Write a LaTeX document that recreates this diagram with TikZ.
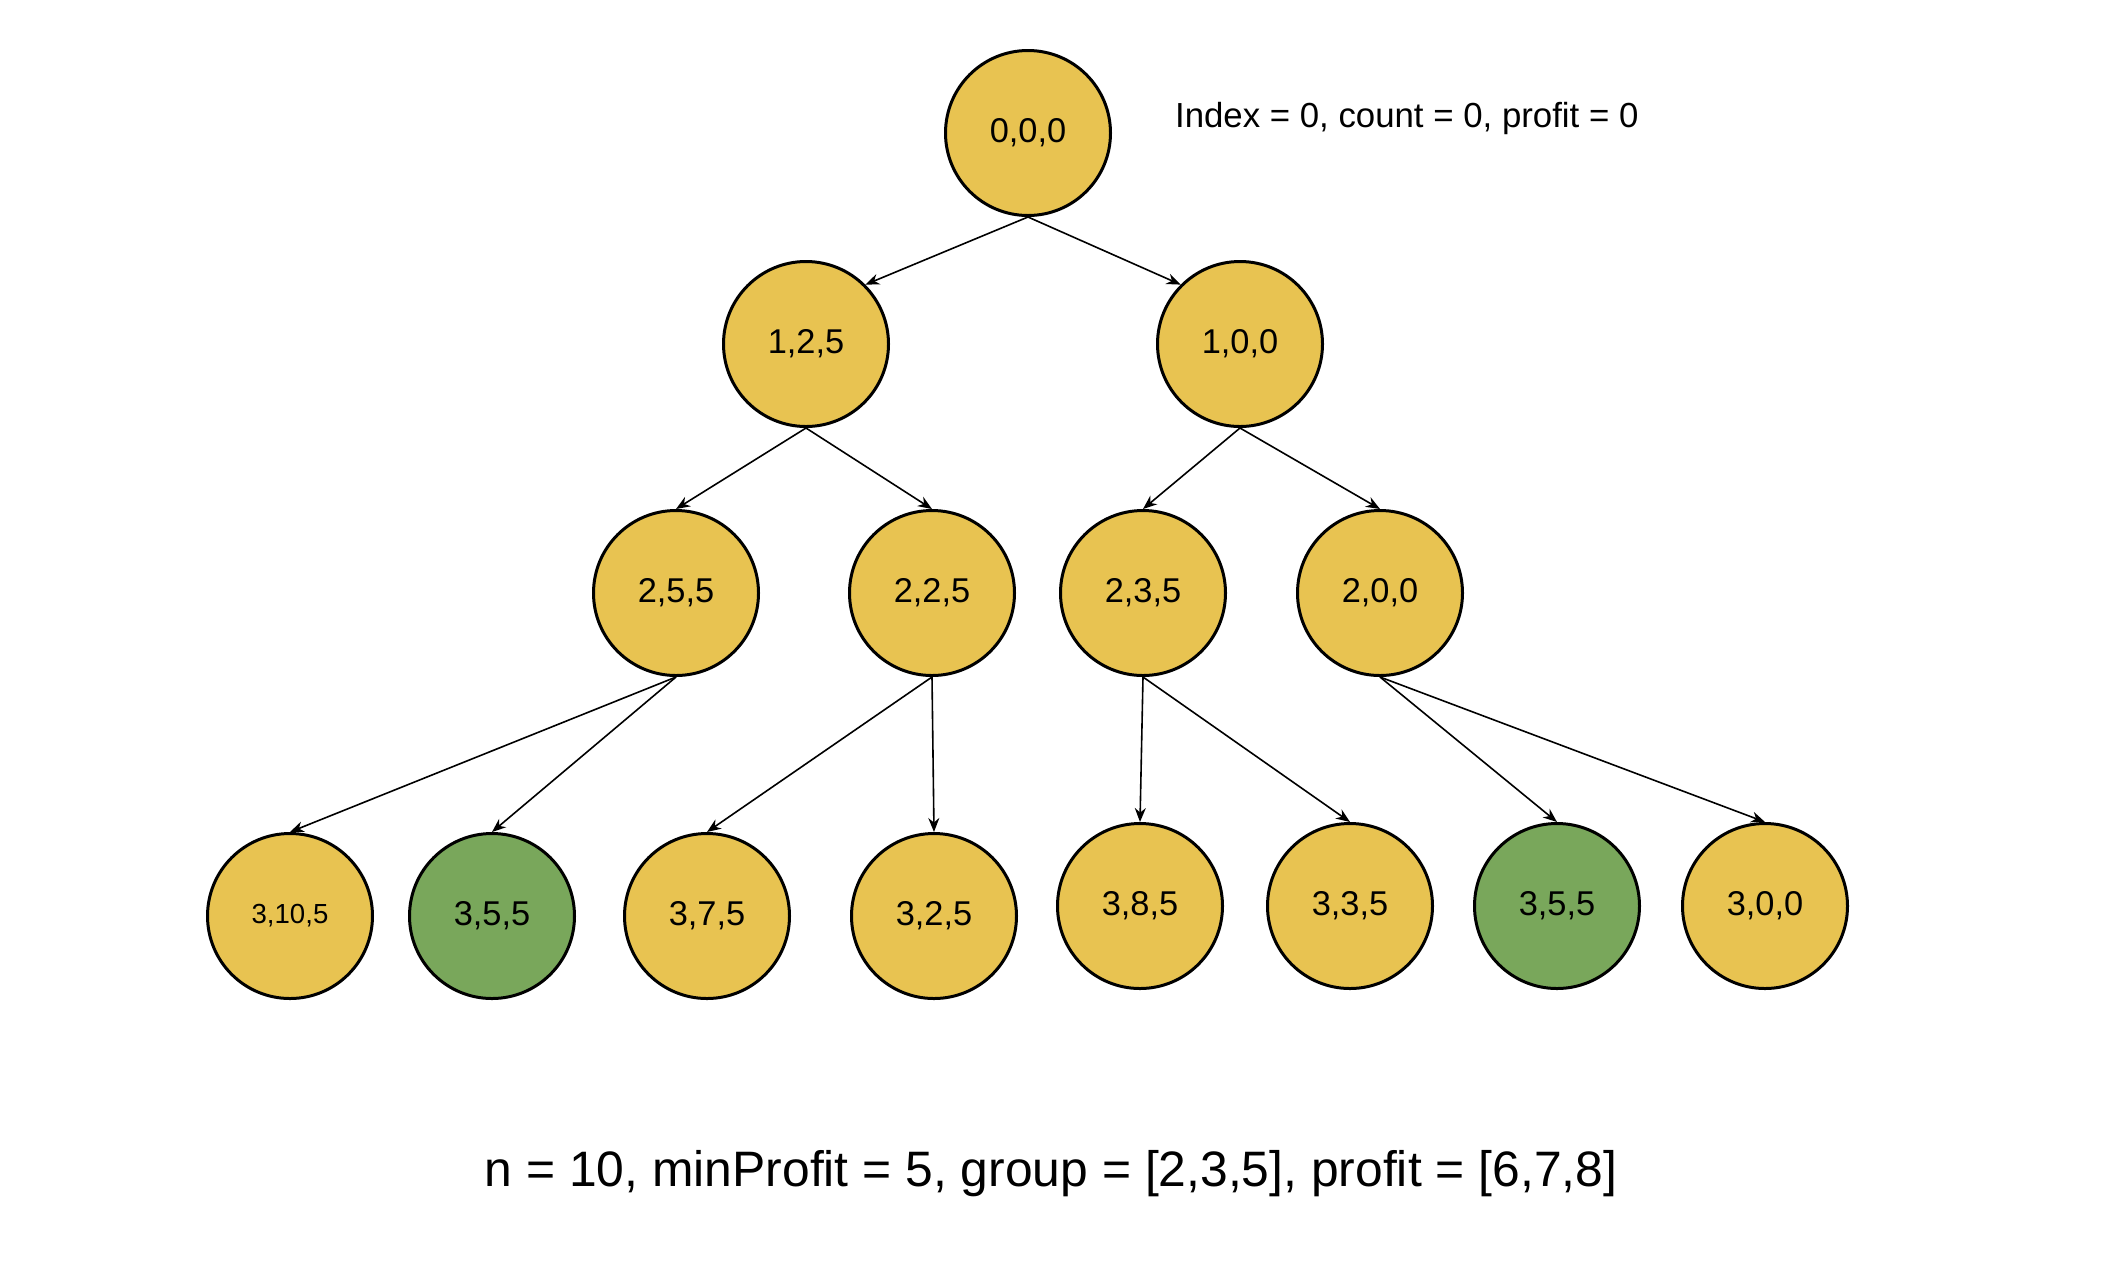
\documentclass[tikz,border=0pt]{standalone}
\usepackage{fontspec}
\setmainfont{Liberation Sans}
\usetikzlibrary{arrows.meta}
\definecolor{stateyellow}{RGB}{232,195,81}
\definecolor{stategreen}{RGB}{121,167,91}
\begin{document}
\begin{tikzpicture}[x=0.5pt,y=-0.5pt,every node/.style={font=\fontsize{17.2pt}{20pt}\selectfont},>={Stealth[length=7pt,width=5.5pt]},
  stnode/.style={draw,circle,line width=1.5pt,fill=stateyellow,minimum size=82.5pt,inner sep=0pt},
  okfill/.style={fill=stategreen},
  link/.style={->,line width=0.8pt}]
\useasboundingbox (0,0) rectangle (2116,1282);

\node[stnode] (s000) at (1028,133) {0,0,0};
\node[anchor=west,font=\fontsize{17.4pt}{20pt}\selectfont] (note) at (1168,118) {Index = 0, count = 0, profit = 0};

\node[stnode] (s125) at (806,344) {1,2,5};
\node[stnode] (s100) at (1240,344) {1,0,0};
\draw[link] (s000.south) -- (s125.45);
\draw[link] (s000.south) -- (s100.135);

\node[stnode] (s255) at (676,593) {2,5,5};
\node[stnode] (s225) at (932,593) {2,2,5};
\node[stnode] (s235) at (1143,593) {2,3,5};
\node[stnode] (s200) at (1380,593) {2,0,0};
\draw[link] (s125.south) -- (s255.north);
\draw[link] (s125.south) -- (s225.north);
\draw[link] (s100.south) -- (s235.north);
\draw[link] (s100.south) -- (s200.north);

\node[stnode,font=\fontsize{13.8pt}{16pt}\selectfont] (s3105) at (290,916) {3,10,5};
\node[stnode,okfill] (s355a) at (492,916) {3,5,5};
\node[stnode] (s375) at (707,916) {3,7,5};
\node[stnode] (s325) at (934,916) {3,2,5};
\node[stnode] (s385) at (1140,906) {3,8,5};
\node[stnode] (s335) at (1350,906) {3,3,5};
\node[stnode,okfill] (s355b) at (1557,906) {3,5,5};
\node[stnode] (s300) at (1765,906) {3,0,0};
\draw[link] (s255.south) -- (s3105.north);
\draw[link] (s255.south) -- (s355a.north);
\draw[link] (s225.south) -- (s375.north);
\draw[link] (s225.south) -- (s325.north);
\draw[link] (s235.south) -- (s385.north);
\draw[link] (s235.south) -- (s335.north);
\draw[link] (s200.south) -- (s355b.north);
\draw[link] (s200.south) -- (s300.north);

\node[font=\fontsize{24.9pt}{29pt}\selectfont] (given) at (1051,1174) {n = 10, minProfit = 5, group = [2,3,5], profit = [6,7,8]};
\end{tikzpicture}
\end{document}
